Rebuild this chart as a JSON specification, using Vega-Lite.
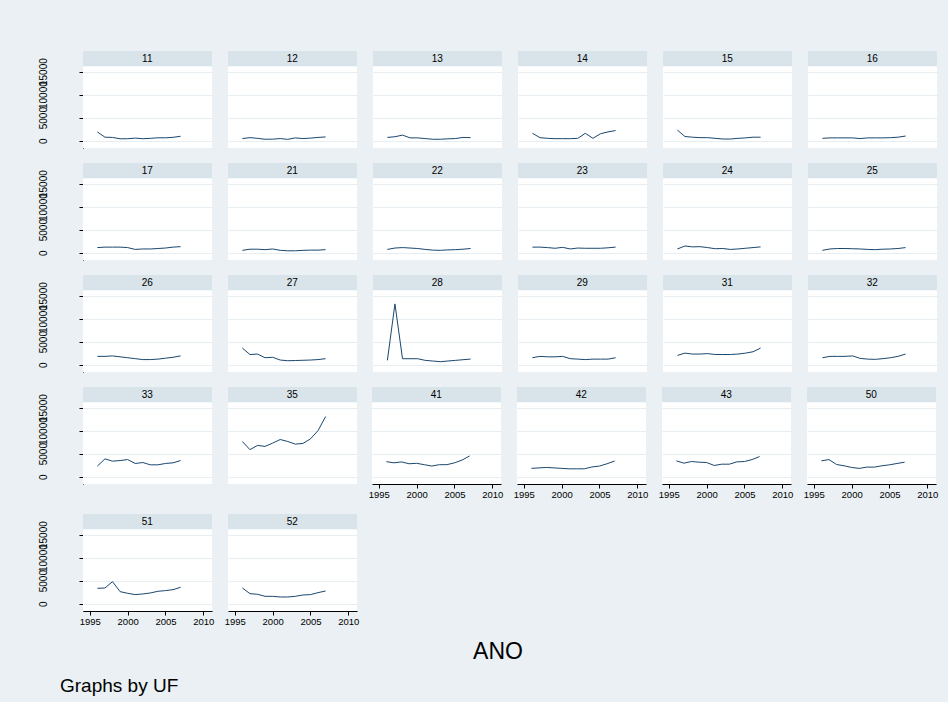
{
  "$schema": "https://vega.github.io/schema/vega-lite/v6.json",
  "background": "#eaf0f3",
  "padding": {"left": 38, "top": 50, "right": 10, "bottom": 6},
  "config": {
    "font": "Liberation Sans",
    "view": {"fill": "white", "stroke": null},
    "concat": {"spacing": 14},
    "header": {"labelExpr": "''", "labelPadding": 0, "labelFontSize": 1, "title": null, "titlePadding": 0},
    "axis": {"zindex": 0, "labelColor": "#000000", "domainColor": "#000000", "tickColor": "#000000", "tickSize": 4, "gridColor": "#e6eef1", "gridWidth": 1.2},
    "axisX": {"labelFontSize": 9.5, "labelPadding": 1, "labelFlush": false, "grid": false},
    "axisY": {"labelFontSize": 10, "labelAngle": -90, "labelOverlap": false, "labelPadding": 31, "grid": true}
  },
  "title": {"text": "Graphs by UF", "orient": "bottom", "anchor": "start", "fontSize": 19, "fontWeight": "normal", "color": "#000000", "dx": 22, "offset": -7},
  "data": {"values": [
    {"UF":11,"ANO":1996,"V":1900},{"UF":11,"ANO":1997,"V":750},{"UF":11,"ANO":1998,"V":700},{"UF":11,"ANO":1999,"V":400},{"UF":11,"ANO":2000,"V":420},{"UF":11,"ANO":2001,"V":550},{"UF":11,"ANO":2002,"V":420},{"UF":11,"ANO":2003,"V":500},{"UF":11,"ANO":2004,"V":620},{"UF":11,"ANO":2005,"V":620},{"UF":11,"ANO":2006,"V":720},{"UF":11,"ANO":2007,"V":950},
    {"UF":12,"ANO":1996,"V":450},{"UF":12,"ANO":1997,"V":650},{"UF":12,"ANO":1998,"V":500},{"UF":12,"ANO":1999,"V":300},{"UF":12,"ANO":2000,"V":320},{"UF":12,"ANO":2001,"V":450},{"UF":12,"ANO":2002,"V":280},{"UF":12,"ANO":2003,"V":600},{"UF":12,"ANO":2004,"V":450},{"UF":12,"ANO":2005,"V":550},{"UF":12,"ANO":2006,"V":700},{"UF":12,"ANO":2007,"V":800},
    {"UF":13,"ANO":1996,"V":700},{"UF":13,"ANO":1997,"V":850},{"UF":13,"ANO":1998,"V":1200},{"UF":13,"ANO":1999,"V":600},{"UF":13,"ANO":2000,"V":600},{"UF":13,"ANO":2001,"V":450},{"UF":13,"ANO":2002,"V":300},{"UF":13,"ANO":2003,"V":300},{"UF":13,"ANO":2004,"V":400},{"UF":13,"ANO":2005,"V":450},{"UF":13,"ANO":2006,"V":700},{"UF":13,"ANO":2007,"V":650},
    {"UF":14,"ANO":1996,"V":1600},{"UF":14,"ANO":1997,"V":650},{"UF":14,"ANO":1998,"V":500},{"UF":14,"ANO":1999,"V":430},{"UF":14,"ANO":2000,"V":430},{"UF":14,"ANO":2001,"V":430},{"UF":14,"ANO":2002,"V":500},{"UF":14,"ANO":2003,"V":1600},{"UF":14,"ANO":2004,"V":500},{"UF":14,"ANO":2005,"V":1500},{"UF":14,"ANO":2006,"V":1900},{"UF":14,"ANO":2007,"V":2200},
    {"UF":15,"ANO":1996,"V":2300},{"UF":15,"ANO":1997,"V":900},{"UF":15,"ANO":1998,"V":750},{"UF":15,"ANO":1999,"V":650},{"UF":15,"ANO":2000,"V":650},{"UF":15,"ANO":2001,"V":500},{"UF":15,"ANO":2002,"V":350},{"UF":15,"ANO":2003,"V":350},{"UF":15,"ANO":2004,"V":500},{"UF":15,"ANO":2005,"V":600},{"UF":15,"ANO":2006,"V":750},{"UF":15,"ANO":2007,"V":750},
    {"UF":16,"ANO":1996,"V":500},{"UF":16,"ANO":1997,"V":600},{"UF":16,"ANO":1998,"V":600},{"UF":16,"ANO":1999,"V":600},{"UF":16,"ANO":2000,"V":600},{"UF":16,"ANO":2001,"V":450},{"UF":16,"ANO":2002,"V":600},{"UF":16,"ANO":2003,"V":600},{"UF":16,"ANO":2004,"V":600},{"UF":16,"ANO":2005,"V":650},{"UF":16,"ANO":2006,"V":750},{"UF":16,"ANO":2007,"V":1000},
    {"UF":17,"ANO":1996,"V":1100},{"UF":17,"ANO":1997,"V":1200},{"UF":17,"ANO":1998,"V":1200},{"UF":17,"ANO":1999,"V":1200},{"UF":17,"ANO":2000,"V":1100},{"UF":17,"ANO":2001,"V":700},{"UF":17,"ANO":2002,"V":800},{"UF":17,"ANO":2003,"V":800},{"UF":17,"ANO":2004,"V":900},{"UF":17,"ANO":2005,"V":1000},{"UF":17,"ANO":2006,"V":1200},{"UF":17,"ANO":2007,"V":1300},
    {"UF":21,"ANO":1996,"V":500},{"UF":21,"ANO":1997,"V":750},{"UF":21,"ANO":1998,"V":750},{"UF":21,"ANO":1999,"V":650},{"UF":21,"ANO":2000,"V":800},{"UF":21,"ANO":2001,"V":500},{"UF":21,"ANO":2002,"V":400},{"UF":21,"ANO":2003,"V":400},{"UF":21,"ANO":2004,"V":500},{"UF":21,"ANO":2005,"V":550},{"UF":21,"ANO":2006,"V":550},{"UF":21,"ANO":2007,"V":650},
    {"UF":22,"ANO":1996,"V":700},{"UF":22,"ANO":1997,"V":1000},{"UF":22,"ANO":1998,"V":1100},{"UF":22,"ANO":1999,"V":1000},{"UF":22,"ANO":2000,"V":900},{"UF":22,"ANO":2001,"V":700},{"UF":22,"ANO":2002,"V":550},{"UF":22,"ANO":2003,"V":500},{"UF":22,"ANO":2004,"V":600},{"UF":22,"ANO":2005,"V":650},{"UF":22,"ANO":2006,"V":750},{"UF":22,"ANO":2007,"V":900},
    {"UF":23,"ANO":1996,"V":1200},{"UF":23,"ANO":1997,"V":1200},{"UF":23,"ANO":1998,"V":1100},{"UF":23,"ANO":1999,"V":950},{"UF":23,"ANO":2000,"V":1150},{"UF":23,"ANO":2001,"V":800},{"UF":23,"ANO":2002,"V":1000},{"UF":23,"ANO":2003,"V":950},{"UF":23,"ANO":2004,"V":950},{"UF":23,"ANO":2005,"V":950},{"UF":23,"ANO":2006,"V":1050},{"UF":23,"ANO":2007,"V":1200},
    {"UF":24,"ANO":1996,"V":800},{"UF":24,"ANO":1997,"V":1450},{"UF":24,"ANO":1998,"V":1250},{"UF":24,"ANO":1999,"V":1300},{"UF":24,"ANO":2000,"V":1100},{"UF":24,"ANO":2001,"V":850},{"UF":24,"ANO":2002,"V":900},{"UF":24,"ANO":2003,"V":700},{"UF":24,"ANO":2004,"V":800},{"UF":24,"ANO":2005,"V":950},{"UF":24,"ANO":2006,"V":1100},{"UF":24,"ANO":2007,"V":1250},
    {"UF":25,"ANO":1996,"V":500},{"UF":25,"ANO":1997,"V":800},{"UF":25,"ANO":1998,"V":900},{"UF":25,"ANO":1999,"V":900},{"UF":25,"ANO":2000,"V":850},{"UF":25,"ANO":2001,"V":800},{"UF":25,"ANO":2002,"V":700},{"UF":25,"ANO":2003,"V":650},{"UF":25,"ANO":2004,"V":750},{"UF":25,"ANO":2005,"V":800},{"UF":25,"ANO":2006,"V":900},{"UF":25,"ANO":2007,"V":1100},
    {"UF":26,"ANO":1996,"V":1800},{"UF":26,"ANO":1997,"V":1800},{"UF":26,"ANO":1998,"V":1900},{"UF":26,"ANO":1999,"V":1700},{"UF":26,"ANO":2000,"V":1500},{"UF":26,"ANO":2001,"V":1300},{"UF":26,"ANO":2002,"V":1100},{"UF":26,"ANO":2003,"V":1100},{"UF":26,"ANO":2004,"V":1200},{"UF":26,"ANO":2005,"V":1400},{"UF":26,"ANO":2006,"V":1600},{"UF":26,"ANO":2007,"V":1900},
    {"UF":27,"ANO":1996,"V":3600},{"UF":27,"ANO":1997,"V":2200},{"UF":27,"ANO":1998,"V":2300},{"UF":27,"ANO":1999,"V":1500},{"UF":27,"ANO":2000,"V":1600},{"UF":27,"ANO":2001,"V":1000},{"UF":27,"ANO":2002,"V":850},{"UF":27,"ANO":2003,"V":900},{"UF":27,"ANO":2004,"V":950},{"UF":27,"ANO":2005,"V":1000},{"UF":27,"ANO":2006,"V":1100},{"UF":27,"ANO":2007,"V":1300},
    {"UF":28,"ANO":1996,"V":930},{"UF":28,"ANO":1997,"V":13200},{"UF":28,"ANO":1998,"V":1290},{"UF":28,"ANO":1999,"V":1290},{"UF":28,"ANO":2000,"V":1290},{"UF":28,"ANO":2001,"V":930},{"UF":28,"ANO":2002,"V":790},{"UF":28,"ANO":2003,"V":640},{"UF":28,"ANO":2004,"V":790},{"UF":28,"ANO":2005,"V":930},{"UF":28,"ANO":2006,"V":1070},{"UF":28,"ANO":2007,"V":1210},
    {"UF":29,"ANO":1996,"V":1500},{"UF":29,"ANO":1997,"V":1800},{"UF":29,"ANO":1998,"V":1700},{"UF":29,"ANO":1999,"V":1700},{"UF":29,"ANO":2000,"V":1800},{"UF":29,"ANO":2001,"V":1300},{"UF":29,"ANO":2002,"V":1200},{"UF":29,"ANO":2003,"V":1100},{"UF":29,"ANO":2004,"V":1200},{"UF":29,"ANO":2005,"V":1200},{"UF":29,"ANO":2006,"V":1200},{"UF":29,"ANO":2007,"V":1500},
    {"UF":31,"ANO":1996,"V":2000},{"UF":31,"ANO":1997,"V":2500},{"UF":31,"ANO":1998,"V":2300},{"UF":31,"ANO":1999,"V":2300},{"UF":31,"ANO":2000,"V":2400},{"UF":31,"ANO":2001,"V":2200},{"UF":31,"ANO":2002,"V":2200},{"UF":31,"ANO":2003,"V":2200},{"UF":31,"ANO":2004,"V":2300},{"UF":31,"ANO":2005,"V":2500},{"UF":31,"ANO":2006,"V":2800},{"UF":31,"ANO":2007,"V":3600},
    {"UF":32,"ANO":1996,"V":1500},{"UF":32,"ANO":1997,"V":1800},{"UF":32,"ANO":1998,"V":1800},{"UF":32,"ANO":1999,"V":1800},{"UF":32,"ANO":2000,"V":1900},{"UF":32,"ANO":2001,"V":1350},{"UF":32,"ANO":2002,"V":1200},{"UF":32,"ANO":2003,"V":1150},{"UF":32,"ANO":2004,"V":1300},{"UF":32,"ANO":2005,"V":1500},{"UF":32,"ANO":2006,"V":1800},{"UF":32,"ANO":2007,"V":2300},
    {"UF":33,"ANO":1996,"V":2290},{"UF":33,"ANO":1997,"V":3860},{"UF":33,"ANO":1998,"V":3360},{"UF":33,"ANO":1999,"V":3500},{"UF":33,"ANO":2000,"V":3710},{"UF":33,"ANO":2001,"V":2860},{"UF":33,"ANO":2002,"V":3070},{"UF":33,"ANO":2003,"V":2570},{"UF":33,"ANO":2004,"V":2570},{"UF":33,"ANO":2005,"V":2860},{"UF":33,"ANO":2006,"V":3000},{"UF":33,"ANO":2007,"V":3500},
    {"UF":35,"ANO":1996,"V":7640},{"UF":35,"ANO":1997,"V":5860},{"UF":35,"ANO":1998,"V":6790},{"UF":35,"ANO":1999,"V":6570},{"UF":35,"ANO":2000,"V":7290},{"UF":35,"ANO":2001,"V":8070},{"UF":35,"ANO":2002,"V":7640},{"UF":35,"ANO":2003,"V":7070},{"UF":35,"ANO":2004,"V":7210},{"UF":35,"ANO":2005,"V":8210},{"UF":35,"ANO":2006,"V":10000},{"UF":35,"ANO":2007,"V":13070},
    {"UF":41,"ANO":1996,"V":3260},{"UF":41,"ANO":1997,"V":3000},{"UF":41,"ANO":1998,"V":3200},{"UF":41,"ANO":1999,"V":2800},{"UF":41,"ANO":2000,"V":2900},{"UF":41,"ANO":2001,"V":2600},{"UF":41,"ANO":2002,"V":2300},{"UF":41,"ANO":2003,"V":2600},{"UF":41,"ANO":2004,"V":2600},{"UF":41,"ANO":2005,"V":3000},{"UF":41,"ANO":2006,"V":3600},{"UF":41,"ANO":2007,"V":4500},
    {"UF":42,"ANO":1996,"V":1800},{"UF":42,"ANO":1997,"V":1900},{"UF":42,"ANO":1998,"V":2000},{"UF":42,"ANO":1999,"V":1900},{"UF":42,"ANO":2000,"V":1800},{"UF":42,"ANO":2001,"V":1700},{"UF":42,"ANO":2002,"V":1700},{"UF":42,"ANO":2003,"V":1700},{"UF":42,"ANO":2004,"V":2100},{"UF":42,"ANO":2005,"V":2300},{"UF":42,"ANO":2006,"V":2800},{"UF":42,"ANO":2007,"V":3400},
    {"UF":43,"ANO":1996,"V":3430},{"UF":43,"ANO":1997,"V":2930},{"UF":43,"ANO":1998,"V":3290},{"UF":43,"ANO":1999,"V":3140},{"UF":43,"ANO":2000,"V":3070},{"UF":43,"ANO":2001,"V":2430},{"UF":43,"ANO":2002,"V":2710},{"UF":43,"ANO":2003,"V":2710},{"UF":43,"ANO":2004,"V":3210},{"UF":43,"ANO":2005,"V":3290},{"UF":43,"ANO":2006,"V":3710},{"UF":43,"ANO":2007,"V":4360},
    {"UF":50,"ANO":1996,"V":3430},{"UF":50,"ANO":1997,"V":3710},{"UF":50,"ANO":1998,"V":2640},{"UF":50,"ANO":1999,"V":2360},{"UF":50,"ANO":2000,"V":2000},{"UF":50,"ANO":2001,"V":1790},{"UF":50,"ANO":2002,"V":2070},{"UF":50,"ANO":2003,"V":2070},{"UF":50,"ANO":2004,"V":2360},{"UF":50,"ANO":2005,"V":2570},{"UF":50,"ANO":2006,"V":2860},{"UF":50,"ANO":2007,"V":3140},
    {"UF":51,"ANO":1996,"V":3330},{"UF":51,"ANO":1997,"V":3400},{"UF":51,"ANO":1998,"V":4780},{"UF":51,"ANO":1999,"V":2610},{"UF":51,"ANO":2000,"V":2250},{"UF":51,"ANO":2001,"V":1960},{"UF":51,"ANO":2002,"V":2100},{"UF":51,"ANO":2003,"V":2320},{"UF":51,"ANO":2004,"V":2680},{"UF":51,"ANO":2005,"V":2830},{"UF":51,"ANO":2006,"V":3040},{"UF":51,"ANO":2007,"V":3550},
    {"UF":52,"ANO":1996,"V":3410},{"UF":52,"ANO":1997,"V":2170},{"UF":52,"ANO":1998,"V":2030},{"UF":52,"ANO":1999,"V":1590},{"UF":52,"ANO":2000,"V":1590},{"UF":52,"ANO":2001,"V":1450},{"UF":52,"ANO":2002,"V":1450},{"UF":52,"ANO":2003,"V":1590},{"UF":52,"ANO":2004,"V":1880},{"UF":52,"ANO":2005,"V":1960},{"UF":52,"ANO":2006,"V":2390},{"UF":52,"ANO":2007,"V":2750}
  ]},
  "vconcat": [
    {
      "transform": [{"filter": "datum.UF <= 32"}],
      "facet": {"field": "UF", "type": "ordinal"},
      "columns": 6,
      "spacing": {"column": 16, "row": 14},
      "spec": {
        "width": 129, "height": 97,
        "layer": [
          {"transform": [{"filter": "datum.ANO == 1996"}], "mark": {"type": "rect", "color": "#d8e3ea"},
           "encoding": {"x": {"datum": 1994.1, "type": "quantitative", "axis": null}, "x2": {"datum": 2011.15}, "y": {"datum": 16150, "type": "quantitative", "axis": {"title": null, "values": [0, 5000, 10000, 15000], "format": "d"}}, "y2": {"datum": 19487}}},
          {"transform": [{"filter": "datum.ANO == 1996"}], "mark": {"type": "text", "fontSize": 10, "color": "#000000", "align": "center", "baseline": "middle"},
           "encoding": {"x": {"datum": 2002.6, "type": "quantitative", "axis": null}, "y": {"datum": 17850, "type": "quantitative", "axis": {"title": null, "values": [0, 5000, 10000, 15000], "format": "d"}}, "text": {"field": "UF"}}},
          {"mark": {"type": "line", "color": "#1a476f", "strokeWidth": 1},
           "encoding": {
             "x": {"field": "ANO", "type": "quantitative", "scale": {"domain": [1994.1, 2011.15], "nice": false, "zero": false}, "axis": null},
             "y": {"field": "V", "type": "quantitative", "scale": {"domain": [-1600, 19487], "nice": false, "zero": false}, "axis": {"title": null, "values": [0, 5000, 10000, 15000], "format": "d"}}
           }}
        ]
      }
    },
    {
      "hconcat": [
        {
          "transform": [{"filter": "datum.UF == 33 || datum.UF == 35"}],
          "facet": {"field": "UF", "type": "ordinal"},
          "columns": 2,
          "spacing": {"column": 16, "row": 14},
          "spec": {
            "width": 129, "height": 97,
            "layer": [
              {"transform": [{"filter": "datum.ANO == 1996"}], "mark": {"type": "rect", "color": "#d8e3ea"},
               "encoding": {"x": {"datum": 1994.1, "type": "quantitative", "axis": null}, "x2": {"datum": 2011.15}, "y": {"datum": 16150, "type": "quantitative", "axis": {"title": null, "values": [0, 5000, 10000, 15000], "format": "d"}}, "y2": {"datum": 19487}}},
              {"transform": [{"filter": "datum.ANO == 1996"}], "mark": {"type": "text", "fontSize": 10, "color": "#000000", "align": "center", "baseline": "middle"},
               "encoding": {"x": {"datum": 2002.6, "type": "quantitative", "axis": null}, "y": {"datum": 17850, "type": "quantitative", "axis": {"title": null, "values": [0, 5000, 10000, 15000], "format": "d"}}, "text": {"field": "UF"}}},
              {"mark": {"type": "line", "color": "#1a476f", "strokeWidth": 1},
               "encoding": {
                 "x": {"field": "ANO", "type": "quantitative", "scale": {"domain": [1994.1, 2011.15], "nice": false, "zero": false}, "axis": null},
                 "y": {"field": "V", "type": "quantitative", "scale": {"domain": [-1600, 19487], "nice": false, "zero": false}, "axis": {"title": null, "values": [0, 5000, 10000, 15000], "format": "d"}}
               }}
            ]
          }
        },
        {
          "transform": [{"filter": "datum.UF >= 41 && datum.UF <= 50"}],
          "facet": {"field": "UF", "type": "ordinal"},
          "columns": 4,
          "spacing": {"column": 16, "row": 14},
          "spec": {
            "width": 129, "height": 97,
            "layer": [
              {"transform": [{"filter": "datum.ANO == 1996"}], "mark": {"type": "rect", "color": "#d8e3ea"},
               "encoding": {"x": {"datum": 1994.1, "type": "quantitative", "axis": {"title": null, "values": [1995, 2000, 2005, 2010], "format": "d"}}, "x2": {"datum": 2011.15}, "y": {"datum": 16150, "type": "quantitative", "axis": {"title": null, "values": [0, 5000, 10000, 15000], "labels": false, "ticks": false, "domain": false, "labelPadding": 0}}, "y2": {"datum": 19487}}},
              {"transform": [{"filter": "datum.ANO == 1996"}], "mark": {"type": "text", "fontSize": 10, "color": "#000000", "align": "center", "baseline": "middle"},
               "encoding": {"x": {"datum": 2002.6, "type": "quantitative", "axis": {"title": null, "values": [1995, 2000, 2005, 2010], "format": "d"}}, "y": {"datum": 17850, "type": "quantitative", "axis": {"title": null, "values": [0, 5000, 10000, 15000], "labels": false, "ticks": false, "domain": false, "labelPadding": 0}}, "text": {"field": "UF"}}},
              {"mark": {"type": "line", "color": "#1a476f", "strokeWidth": 1},
               "encoding": {
                 "x": {"field": "ANO", "type": "quantitative", "scale": {"domain": [1994.1, 2011.15], "nice": false, "zero": false}, "axis": {"title": null, "values": [1995, 2000, 2005, 2010], "format": "d"}},
                 "y": {"field": "V", "type": "quantitative", "scale": {"domain": [-1600, 19487], "nice": false, "zero": false}, "axis": {"title": null, "values": [0, 5000, 10000, 15000], "labels": false, "ticks": false, "domain": false, "labelPadding": 0}}
               }}
            ]
          }
        }
      ],
      "spacing": 11
    },
    {
      "transform": [{"filter": "datum.UF >= 51"}],
      "facet": {"field": "UF", "type": "ordinal"},
      "columns": 2,
      "spacing": {"column": 16, "row": 14},
      "spec": {
        "width": 129, "height": 97,
        "layer": [
          {"transform": [{"filter": "datum.ANO == 1996"}], "mark": {"type": "rect", "color": "#d8e3ea"},
           "encoding": {"x": {"datum": 1994.1, "type": "quantitative", "axis": {"title": null, "values": [1995, 2000, 2005, 2010], "format": "d"}}, "x2": {"datum": 2011.15}, "y": {"datum": 16150, "type": "quantitative", "axis": {"title": null, "values": [0, 5000, 10000, 15000], "format": "d"}}, "y2": {"datum": 19487}}},
          {"transform": [{"filter": "datum.ANO == 1996"}], "mark": {"type": "text", "fontSize": 10, "color": "#000000", "align": "center", "baseline": "middle"},
           "encoding": {"x": {"datum": 2002.6, "type": "quantitative", "axis": {"title": null, "values": [1995, 2000, 2005, 2010], "format": "d"}}, "y": {"datum": 17850, "type": "quantitative", "axis": {"title": null, "values": [0, 5000, 10000, 15000], "format": "d"}}, "text": {"field": "UF"}}},
          {"mark": {"type": "line", "color": "#1a476f", "strokeWidth": 1},
           "encoding": {
             "x": {"field": "ANO", "type": "quantitative", "scale": {"domain": [1994.1, 2011.15], "nice": false, "zero": false}, "axis": {"title": null, "values": [1995, 2000, 2005, 2010], "format": "d"}},
             "y": {"field": "V", "type": "quantitative", "scale": {"domain": [-1600, 19487], "nice": false, "zero": false}, "axis": {"title": null, "values": [0, 5000, 10000, 15000], "format": "d"}}
           }}
        ]
      }
    },
    {
      "width": 854, "height": 1,
      "data": {"values": [{"k": 1}]},
      "mark": {"type": "text"},
      "encoding": {"text": {"value": ""}},
      "view": {"fill": null, "stroke": null},
      "title": {"text": "ANO", "fontSize": 23, "fontWeight": "normal", "color": "#000000", "anchor": "middle", "dx": -12, "dy": -7, "offset": 2}
    }
  ]
}
